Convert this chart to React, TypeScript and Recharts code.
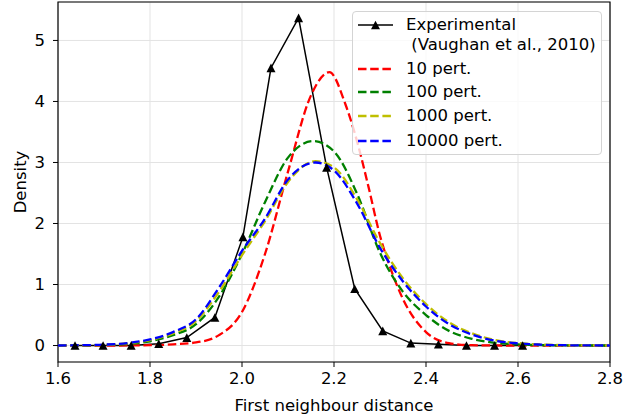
import React from 'react';
import { LineChart, Line, XAxis, YAxis, CartesianGrid, ReferenceArea, Legend, Label } from 'recharts';

const expX = [1.637, 1.698, 1.759, 1.819, 1.880, 1.941, 2.002, 2.063, 2.123, 2.184, 2.245, 2.306, 2.367, 2.427, 2.488, 2.549, 2.610];
const expY = [0, 0, 0, 0.03, 0.13, 0.46, 1.78, 4.55, 5.37, 2.92, 0.93, 0.24, 0.04, 0.02, 0, 0, 0];

const redX = [1.6, 1.7, 1.8, 1.85, 1.9, 1.95, 2.0, 2.05, 2.1, 2.15, 2.19, 2.225, 2.25, 2.275, 2.3, 2.325, 2.35, 2.4, 2.45, 2.5, 2.6, 2.8];
const redY = [0, 0, 0.005, 0.02, 0.05, 0.17, 0.55, 1.5, 2.85, 4.1, 4.48, 3.95, 3.35, 2.6, 1.8, 1.22, 0.76, 0.22, 0.04, 0.005, 0, 0];

const greenX = [1.6, 1.65, 1.7, 1.75, 1.8, 1.85, 1.9, 1.95, 2.0, 2.05, 2.1, 2.155, 2.2, 2.25, 2.3, 2.35, 2.4, 2.45, 2.5, 2.55, 2.6, 2.65, 2.7, 2.8];
const greenY = [0, 0.003, 0.008, 0.025, 0.07, 0.17, 0.35, 0.8, 1.5, 2.35, 3.08, 3.35, 3.18, 2.49, 1.52, 0.88, 0.5, 0.24, 0.11, 0.045, 0.018, 0.006, 0.002, 0];

const yellowX = [1.6, 1.65, 1.7, 1.75, 1.8, 1.85, 1.9, 1.95, 2.0, 2.05, 2.1, 2.16, 2.2, 2.25, 2.3, 2.35, 2.4, 2.45, 2.5, 2.55, 2.6, 2.65, 2.7, 2.8];
const yellowY = [0, 0.004, 0.012, 0.035, 0.09, 0.2, 0.4, 0.88, 1.48, 2.04, 2.68, 3.02, 2.92, 2.4, 1.68, 1.1, 0.68, 0.38, 0.2, 0.09, 0.04, 0.017, 0.006, 0];

const blueX = [1.6, 1.65, 1.7, 1.75, 1.8, 1.85, 1.9, 1.95, 2.0, 2.05, 2.1, 2.16, 2.2, 2.25, 2.3, 2.35, 2.4, 2.45, 2.5, 2.55, 2.6, 2.65, 2.7, 2.8];
const blueY = [0, 0.005, 0.015, 0.04, 0.1, 0.22, 0.43, 0.95, 1.55, 2.08, 2.72, 3.0, 2.87, 2.33, 1.6, 1.05, 0.64, 0.35, 0.18, 0.08, 0.035, 0.015, 0.005, 0];

const xTicks = [1.6, 1.8, 2.0, 2.2, 2.4, 2.6, 2.8];
const yTicks = [0, 1, 2, 3, 4, 5];

const seriesNames = ['Experimental\n (Vaughan et al., 2010)', '10 pert.', '100 pert.', '1000 pert.', '10000 pert.'];
const seriesColors = ['#000000', '#ff0000', '#008000', '#bfbf00', '#0000ff'];

const zip = (xs: number[], ys: number[]) => xs.map((x, i) => ({ x, y: ys[i] }));
const expData = zip(expX, expY);
const redData = zip(redX, redY);
const greenData = zip(greenX, greenY);
const yellowData = zip(yellowX, yellowY);
const blueData = zip(blueX, blueY);

const FONT = '"DejaVu Sans", sans-serif';
const FS = 16.5;

const Tri = (props: any) => {
  const { cx, cy } = props;
  if (cx == null || cy == null) return null;
  return <polygon key={`${cx}-${cy}`} points={`${cx},${cy - 4.3} ${cx - 4.5},${cy + 4.3} ${cx + 4.5},${cy + 4.3}`} fill="#000" />;
};

const renderLegend = () => {
  const rows = [
    { c: 13, name: 0, dashed: false },
    { c: 57, name: 1, dashed: true },
    { c: 80, name: 2, dashed: true },
    { c: 104, name: 3, dashed: true },
    { c: 129, name: 4, dashed: true },
  ];
  return (
    <div style={{ position: 'relative', width: 250, height: 144, border: '1px solid #d4d4d4', borderRadius: 4, background: 'rgba(255,255,255,0.8)', boxSizing: 'border-box', fontFamily: FONT, fontSize: FS, color: '#000' }}>
      {rows.map((r) => (
        <React.Fragment key={r.name}>
          <svg style={{ position: 'absolute', left: 5, top: r.c - 6, overflow: 'visible' }} width={36} height={12}>
            <line x1={0} y1={6} x2={35} y2={6} stroke={seriesColors[r.name]} strokeWidth={r.dashed ? 2.3 : 1.5} strokeDasharray={r.dashed ? '8.5 3.7' : undefined} />
            {!r.dashed && <polygon points={`${17.5},${6 - 4.3} ${17.5 - 4.5},${6 + 4.3} ${17.5 + 4.5},${6 + 4.3}`} fill="#000" />}
          </svg>
          <div style={{ position: 'absolute', left: 53, top: r.c - 10, lineHeight: '19.5px', whiteSpace: 'pre' }}>{seriesNames[r.name]}</div>
        </React.Fragment>
      ))}
    </div>
  );
};

export default function App() {
  return (
    <div style={{ position: 'absolute', left: 0, top: 0, width: 624, height: 420, background: '#fff' }}>
      <LineChart width={624} height={420} margin={{ top: 2, right: 14, bottom: 0, left: 8 }}>
        <CartesianGrid stroke="#e3e3e3" strokeWidth={1} horizontal vertical />
        <XAxis
          type="number"
          dataKey="x"
          domain={[1.6, 2.8]}
          ticks={xTicks}
          allowDataOverflow
          height={58}
          tickSize={5}
          tickMargin={5}
          axisLine={false}
          tickLine={{ stroke: '#000' }}
          tick={{ fill: '#000', fontFamily: FONT, fontSize: FS }}
          tickFormatter={(v: number) => v.toFixed(1)}
        >
          <Label value="First neighbour distance" position="insideBottom" offset={9} style={{ fontFamily: FONT, fontSize: FS, fill: '#000' }} />
        </XAxis>
        <YAxis
          type="number"
          domain={[-0.27, 5.63]}
          ticks={yTicks}
          allowDataOverflow
          width={50}
          tickSize={5}
          tickMargin={8}
          axisLine={false}
          tickLine={{ stroke: '#000' }}
          tick={{ fill: '#000', fontFamily: FONT, fontSize: FS }}
        >
          <Label value="Density" angle={-90} position="insideLeft" offset={12} style={{ fontFamily: FONT, fontSize: FS, fill: '#000', textAnchor: 'middle' }} />
        </YAxis>
        <ReferenceArea x1={1.6} x2={2.8} y1={-0.27} y2={5.63} fill="none" stroke="#000" strokeWidth={1.2} ifOverflow="visible" />
        <Line data={expData} dataKey="y" type="linear" stroke="#000" strokeWidth={1.5} dot={<Tri />} activeDot={false} isAnimationActive={false} legendType="none" />
        <Line data={redData} dataKey="y" type="monotone" stroke="#ff0000" strokeWidth={2.3} strokeDasharray="8.5 3.7" dot={false} activeDot={false} isAnimationActive={false} />
        <Line data={greenData} dataKey="y" type="monotone" stroke="#008000" strokeWidth={2.3} strokeDasharray="8.5 3.7" dot={false} activeDot={false} isAnimationActive={false} />
        <Line data={yellowData} dataKey="y" type="monotone" stroke="#bfbf00" strokeWidth={2.3} strokeDasharray="8.5 3.7" dot={false} activeDot={false} isAnimationActive={false} />
        <Line data={blueData} dataKey="y" type="monotone" stroke="#0000ff" strokeWidth={2.3} strokeDasharray="8.5 3.7" dot={false} activeDot={false} isAnimationActive={false} />
        <Legend layout="vertical" align="center" verticalAlign="middle" content={renderLegend} wrapperStyle={{ left: 352, top: 11, width: 250, height: 144 }} />
      </LineChart>
    </div>
  );
}
